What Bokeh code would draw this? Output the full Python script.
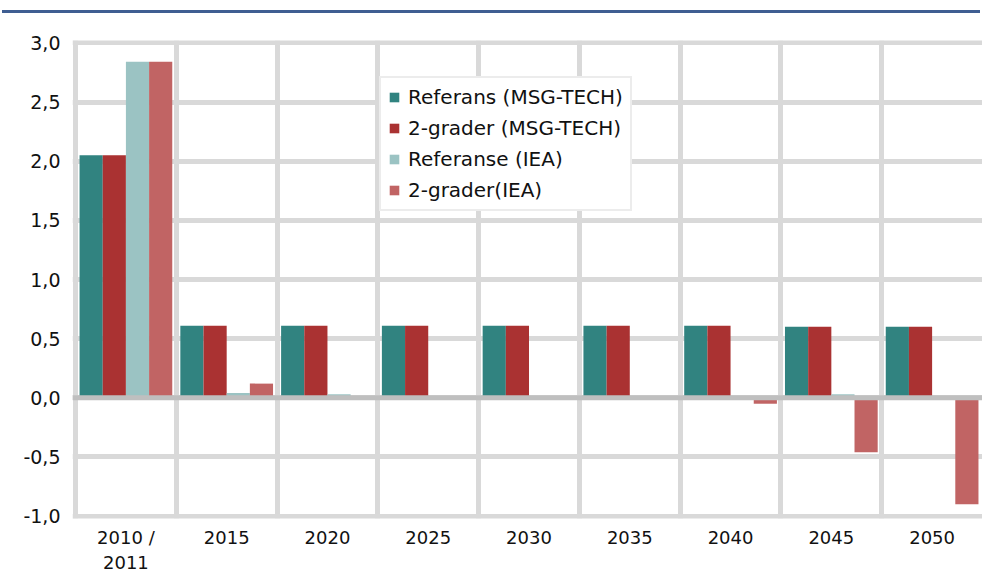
import numpy as np
from bokeh.plotting import figure
from bokeh.layouts import column
from bokeh.models import (ColumnDataSource, Range1d, FixedTicker, Span, Legend, LegendItem,
                          CustomJSTickFormatter, Div)
from bokeh.transform import dodge
from bokeh.embed import file_html
from bokeh.resources import INLINE

categories = ["2010 /\n2011", "2015", "2020", "2025", "2030", "2035", "2040", "2045", "2050"]
series_names = ["Referans (MSG-TECH)", "2-grader (MSG-TECH)", "Referanse (IEA)", "2-grader(IEA)"]
ref_msg = [2.05, 0.61, 0.61, 0.61, 0.61, 0.61, 0.61, 0.60, 0.60]
two_msg = [2.05, 0.61, 0.61, 0.61, 0.61, 0.61, 0.61, 0.60, 0.60]
ref_iea = [2.84, 0.04, 0.03, 0.01, 0.01, 0.01, 0.01, 0.03, 0.0]
two_iea = [2.84, 0.12, 0.0, 0.0, 0.0, 0.0, -0.05, -0.46, -0.90]
y_ticks = [-1.0, -0.5, 0.0, 0.5, 1.0, 1.5, 2.0, 2.5, 3.0]

colors = ["#318380", "#AA3232", "#9BC3C3", "#C16464"]
FONT = "DejaVu Sans"

n = len(categories)
centers = np.arange(n) + 0.5
src = ColumnDataSource(dict(x=centers, a=ref_msg, b=two_msg, c=ref_iea, d=two_iea))

rule = Div(text="", width=978, height=3, margin=(10, 0, 0, 2),
           styles={"background-color": "#3F5E92"})

p = figure(width=982, height=563, toolbar_location=None, output_backend="svg",
           x_range=Range1d(-0.03, n), y_range=Range1d(-1.02, 3.02),
           min_border_top=27, min_border_left=72, min_border_right=0, min_border_bottom=58)
p.outline_line_color = None
p.background_fill_color = "white"
p.border_fill_color = "white"

bw = 0.23
offs = [-1.5 * bw, -0.5 * bw, 0.5 * bw, 1.5 * bw]
rs = []
for key, off, col in zip(["a", "b", "c", "d"], offs, colors):
    r = p.vbar(x=dodge("x", off), top=key, bottom=0, width=bw,
               source=src, fill_color=col, line_color=None)
    rs.append(r)

p.add_layout(Span(location=0, dimension="width", line_color="#BFBFBF", line_width=5))

# axes
p.xaxis.ticker = FixedTicker(ticks=list(centers))
p.xaxis.major_label_overrides = {float(c): lab for c, lab in zip(centers, categories)}
p.yaxis.ticker = FixedTicker(ticks=y_ticks)
p.yaxis.formatter = CustomJSTickFormatter(code="return tick.toFixed(1).replace('.', ',');")
for ax in (p.xaxis[0], p.yaxis[0]):
    ax.axis_line_color = None
    ax.major_tick_line_color = None
    ax.minor_tick_line_color = None
    ax.major_tick_out = 0
    ax.major_label_text_font = FONT
    ax.major_label_text_color = "#111111"
p.yaxis.major_label_text_font_size = "19px"
p.xaxis.major_label_text_font_size = "18px"
p.yaxis.major_label_standoff = 12
p.xaxis.major_label_standoff = 8

p.xgrid.ticker = FixedTicker(ticks=list(range(n + 1)))
p.ygrid.ticker = FixedTicker(ticks=y_ticks)
for g in (p.xgrid[0], p.ygrid[0]):
    g.grid_line_color = "#D9D9D9"
    g.grid_line_width = 5

legend = Legend(items=[LegendItem(label=nm, renderers=[r]) for nm, r in zip(series_names, rs)],
                location=(307, 307))
legend.label_text_font = FONT
legend.label_text_font_size = "20px"
legend.label_text_color = "#111111"
legend.glyph_width = 12
legend.glyph_height = 12
legend.label_height = 20
legend.spacing = 7
legend.padding = 7
legend.margin = 0
legend.label_standoff = 8
legend.border_line_color = "#D9D9D9"
legend.border_line_width = 2
legend.background_fill_color = "white"
legend.background_fill_alpha = 1
p.add_layout(legend, "center")

layout = column(rule, p, spacing=0)
open("out.html", "w").write(file_html(layout, INLINE))
